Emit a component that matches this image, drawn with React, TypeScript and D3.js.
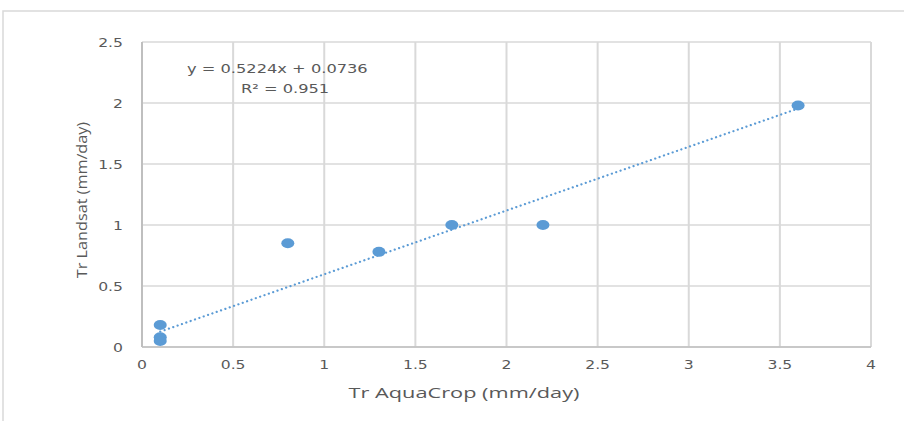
import React from 'react';
import * as d3 from 'd3';

const trAquaCrop = [0.1, 0.1, 0.1, 0.8, 1.3, 1.7, 2.2, 3.6];
const trLandsat = [0.18, 0.08, 0.05, 0.85, 0.78, 1.0, 1.0, 1.98];
const xTicks = [0, 0.5, 1, 1.5, 2, 2.5, 3, 3.5, 4];
const yTicks = [0, 0.5, 1, 1.5, 2, 2.5];
const slope = 0.5224;
const intercept = 0.0736;
const rSquared = 0.951;

const W = 904;
const H = 421;
const GRID = '#d9d9d9';
const TEXT = '#595959';
const BLUE = '#5b9bd5';
const SX = 1.25; // the picture is stretched sideways

const App = () => {
  const x = d3.scaleLinear().domain([0, 4]).range([142, 871]);
  const y = d3.scaleLinear().domain([0, 2.5]).range([347, 42]);

  const points = trAquaCrop.map((v, i) => ({ x: v, y: trLandsat[i] }));
  const xMin = d3.min(trAquaCrop) as number;
  const xMax = d3.max(trAquaCrop) as number;
  const trend = [xMin, xMax].map((v) => ({ x: v, y: slope * v + intercept }));

  const line = d3
    .line<{ x: number; y: number }>()
    .x((d) => x(d.x))
    .y((d) => y(d.y));

  const fmt = (v: number) => String(v);

  return (
    <svg
      width={W}
      height={H}
      style={{ position: 'absolute', left: 0, top: 0, background: '#fff' }}
      fontFamily="DejaVu Sans"
    >
      {/* outer frame, left and top only */}
      <path d={`M3,${H} L3,11 L${W},11`} fill="none" stroke={GRID} strokeWidth={1.5} />

      {/* grid */}
      {yTicks.map((t) => (
        <line key={'gy' + t} x1={x(0)} x2={x(4)} y1={y(t)} y2={y(t)} stroke={GRID} strokeWidth={1.5} />
      ))}
      {xTicks.map((t) => (
        <line key={'gx' + t} x1={x(t)} x2={x(t)} y1={y(0)} y2={y(2.5)} stroke={GRID} strokeWidth={2} />
      ))}
      {/* axis lines */}
      <line x1={x(0)} x2={x(0)} y1={y(0)} y2={y(2.5)} stroke="#bfbfbf" strokeWidth={2} />
      <line x1={x(0)} x2={x(4)} y1={y(0)} y2={y(0)} stroke="#bfbfbf" strokeWidth={1.5} />

      {/* tick labels */}
      {yTicks.map((t) => (
        <text
          key={'ly' + t}
          transform={`translate(123,${y(t) + 4.5}) scale(${SX},1)`}
          textAnchor="end"
          fontSize={12.5}
          fill={TEXT}
        >
          {fmt(t)}
        </text>
      ))}
      {xTicks.map((t) => (
        <text
          key={'lx' + t}
          transform={`translate(${x(t)},${369}) scale(${SX},1)`}
          textAnchor="middle"
          fontSize={12.5}
          fill={TEXT}
        >
          {fmt(t)}
        </text>
      ))}

      {/* axis titles */}
      <text
        transform={`translate(464,398) scale(1.45,1)`}
        textAnchor="middle"
        fontFamily="Open Sans"
        fontSize={15}
        fill={TEXT}
      >
        Tr AquaCrop (mm/day)
      </text>
      <text
        transform={`translate(87,200) rotate(-90) scale(1.08,1)`}
        textAnchor="middle"
        fontFamily="Open Sans"
        fontSize={15}
        fill={TEXT}
      >
        Tr Landsat (mm/day)
      </text>

      {/* trendline */}
      <path
        d={line(trend) as string}
        fill="none"
        stroke={BLUE}
        strokeWidth={2.2}
        strokeDasharray="0.1 4.5"
        strokeLinecap="round"
      />

      {/* points */}
      {points.map((p, i) => (
        <ellipse key={'p' + i} cx={x(p.x)} cy={y(p.y)} rx={6.5} ry={5} fill={BLUE} />
      ))}

      {/* equation */}
      <text transform={`translate(187,73) scale(${SX},1)`} fontSize={13} fill={TEXT}>
        {`y = ${slope}x + ${intercept}`}
      </text>
      <text transform={`translate(241,93) scale(${SX},1)`} fontSize={13} fill={TEXT}>
        {`R² = ${rSquared}`}
      </text>
    </svg>
  );
};

export default App;
